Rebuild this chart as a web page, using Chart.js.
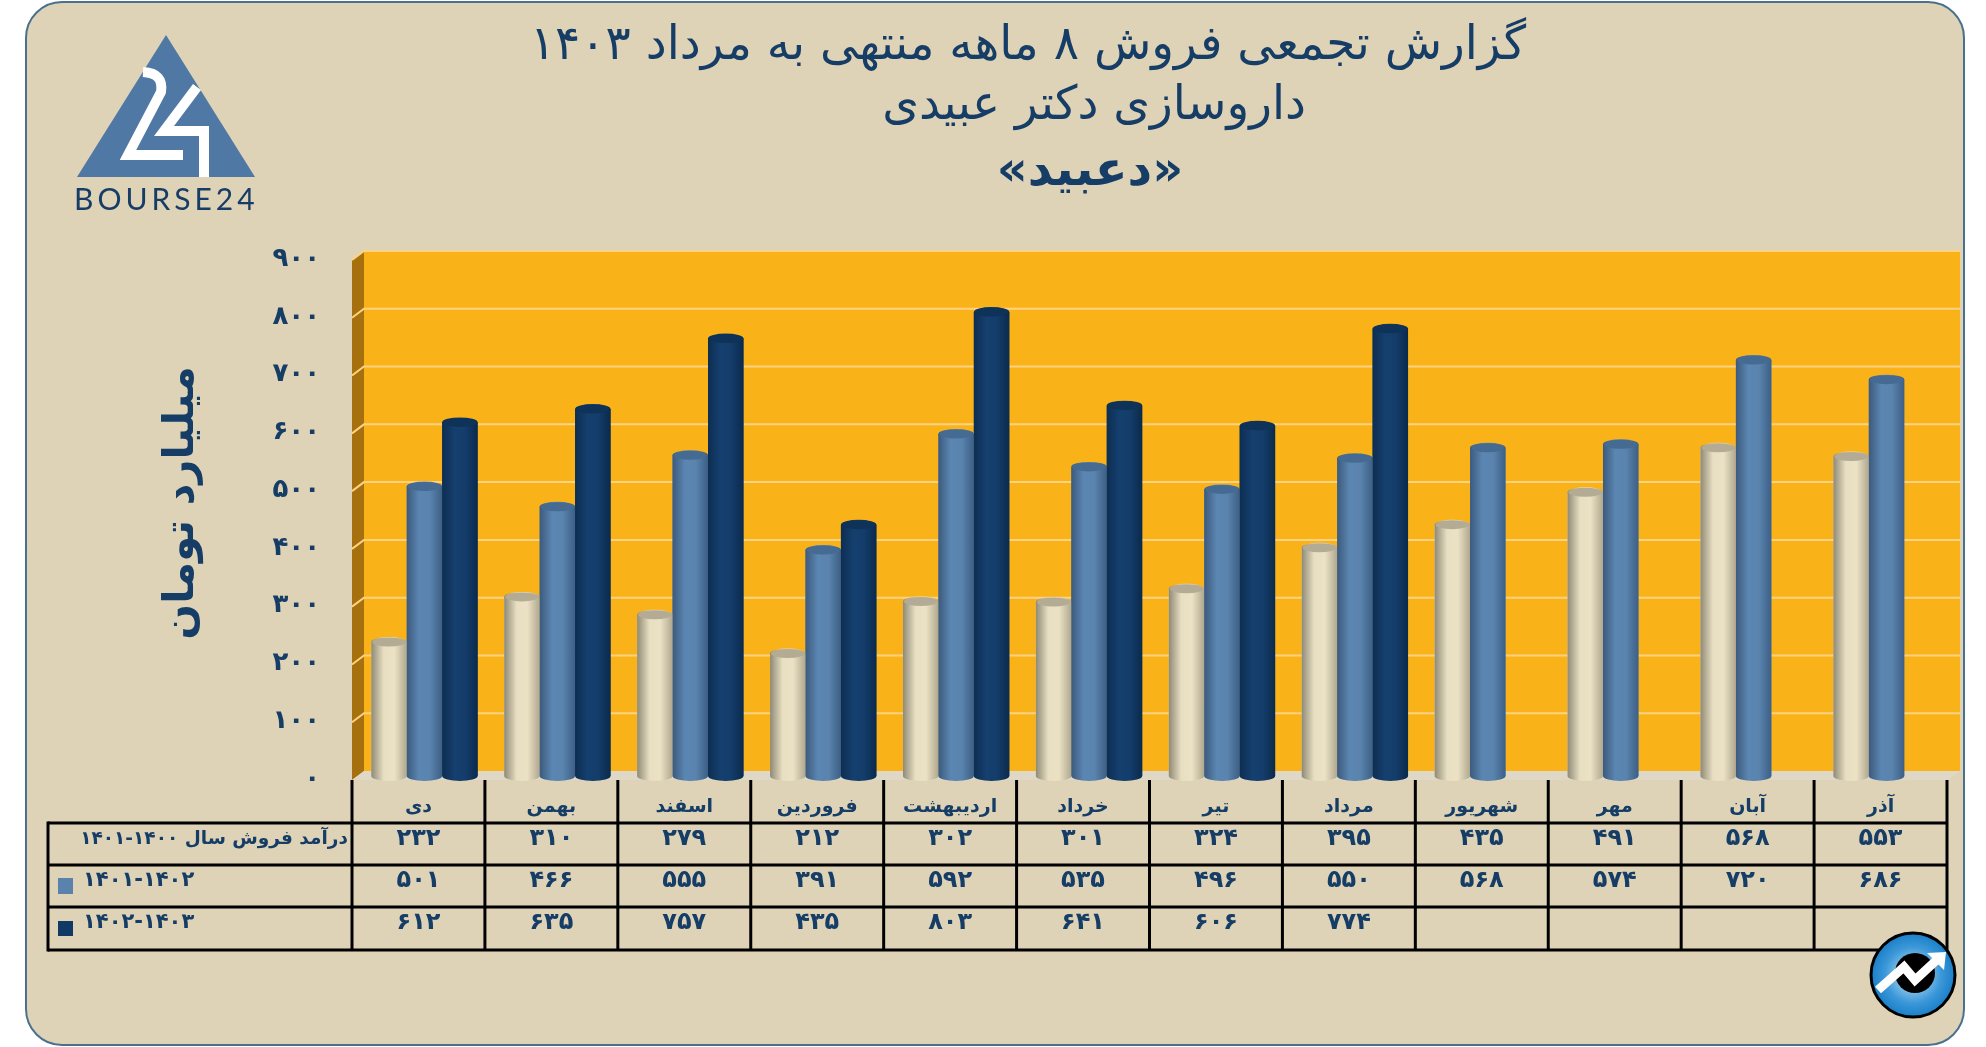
<!DOCTYPE html>
<html lang="fa">
  <head>
    <meta charset="UTF-8" />
    <title>داروسازی دکتر عبیدی</title>
    <script src="https://cdn.jsdelivr.net/npm/chart.js"></script>
    <style>
      html, body { margin: 0; background: #ffffff; }
      canvas { display: block; }
    </style>
  </head>
  <body>
    <canvas id="salesChart" width="1986" height="1047"></canvas>
    <script>
      const months = ["دی", "بهمن", "اسفند", "فروردین", "اردیبهشت", "خرداد", "تیر", "مرداد", "شهریور", "مهر", "آبان", "آذر"];
      const sales1400 = [232, 310, 279, 212, 302, 301, 324, 395, 435, 491, 568, 553];
      const sales1401 = [501, 466, 555, 391, 592, 535, 496, 550, 568, 574, 720, 686];
      const sales1402 = [612, 635, 757, 435, 803, 641, 606, 774, null, null, null, null];
      const seriesLabels = ["درآمد فروش سال ۱۴۰۰-۱۴۰۱", "۱۴۰۱-۱۴۰۲", "۱۴۰۲-۱۴۰۳"];
      const titleLines = ["گزارش تجمعی فروش ۸ ماهه منتهی به مرداد ۱۴۰۳", "داروسازی دکتر عبیدی", "«دعبید»"];
      const yTitle = "میلیارد تومان";

      const navy = "#163d66";
      const font = "'DejaVu Sans', 'Noto Sans', sans-serif";
      const faDigits = (n) => String(n).replace(/\d/g, (d) => "۰۱۲۳۴۵۶۷۸۹"[d]);

      // shading for the cylinders: left edge, middle, right edge, top cap
      const shades = [
        { stops: ["#8f8a76", "#e8dfc2", "#ebe2c6", "#b0a88e"], cap: "#b3ab93" },
        { stops: ["#3c5a7c", "#5b86b2", "#5a84ae", "#3d5f86"], cap: "#466b92" },
        { stops: ["#0d2e52", "#153f6e", "#143d6b", "#0b2a4c"], cap: "#0e3258" },
      ];

      function text(ctx, str, x, y, size, weight, align, color) {
        ctx.font = weight + " " + size + "px " + font;
        ctx.fillStyle = color || navy;
        ctx.textAlign = align || "center";
        ctx.textBaseline = "middle";
        ctx.direction = "rtl";
        ctx.fillText(str, x, y);
      }

      const frame = {
        id: "frame",
        beforeDraw(chart) {
          const { ctx } = chart;
          const y = chart.scales.y;
          const y0 = y.getPixelForValue(0);
          const yTop = y.getPixelForValue(900);
          ctx.save();
          // rounded panel
          ctx.beginPath();
          ctx.roundRect(26, 2, 1938, 1043, 36);
          ctx.fillStyle = "#ded3b7";
          ctx.fill();
          ctx.lineWidth = 2;
          ctx.strokeStyle = "#4a7090";
          ctx.stroke();
          // back wall, side wall, floor
          ctx.fillStyle = "#fab219";
          ctx.fillRect(364, yTop - 5, 1596, y0 - yTop);
          ctx.fillStyle = "#a6700f";
          ctx.beginPath();
          ctx.moveTo(352, yTop + 4);
          ctx.lineTo(364, yTop - 5);
          ctx.lineTo(364, y0 - 5);
          ctx.lineTo(352, y0 + 4);
          ctx.fill();
          ctx.fillStyle = "#dfd8c6";
          ctx.beginPath();
          ctx.moveTo(352, y0 + 4);
          ctx.lineTo(364, y0 - 5);
          ctx.lineTo(1960, y0 - 5);
          ctx.lineTo(1948, y0 + 4);
          ctx.fill();
          // gridlines from the value axis ticks
          ctx.strokeStyle = "#fdd283";
          ctx.lineWidth = 2;
          y.ticks.forEach((t) => {
            if (t.value === 0) return;
            const p = y.getPixelForValue(t.value);
            ctx.beginPath();
            ctx.moveTo(352, p + 4);
            ctx.lineTo(364, p - 5);
            ctx.lineTo(1960, p - 5);
            ctx.stroke();
          });
          ctx.restore();
        },
        afterDatasetsDraw(chart) {
          const { ctx } = chart;
          ctx.save();
          chart.data.datasets.forEach((ds, i) => {
            chart.getDatasetMeta(i).data.forEach((bar, j) => {
              if (ds.data[j] == null) return;
              const left = bar.x - bar.width / 2;
              const right = bar.x + bar.width / 2;
              const rx = bar.width / 2;
              const ry = 5;
              const g = ctx.createLinearGradient(left, 0, right, 0);
              g.addColorStop(0, shades[i].stops[0]);
              g.addColorStop(0.35, shades[i].stops[1]);
              g.addColorStop(0.65, shades[i].stops[2]);
              g.addColorStop(1, shades[i].stops[3]);
              ctx.fillStyle = g;
              ctx.beginPath();
              ctx.moveTo(left, bar.y);
              ctx.lineTo(right, bar.y);
              ctx.lineTo(right, bar.base);
              ctx.ellipse(bar.x, bar.base, rx, ry, 0, 0, Math.PI);
              ctx.closePath();
              ctx.fill();
              ctx.fillStyle = g;
              ctx.beginPath();
              ctx.ellipse(bar.x, bar.y, rx, ry, 0, 0, Math.PI * 2);
              ctx.fill();
              ctx.fillStyle = shades[i].cap;
              ctx.beginPath();
              ctx.ellipse(bar.x, bar.y, rx - 1, ry - 0.5, 0, 0, Math.PI * 2);
              ctx.fill();
            });
          });
          ctx.restore();
        },
        afterDraw(chart) {
          const { ctx } = chart;
          const x = chart.scales.x;
          const half = (x.getPixelForValue(1) - x.getPixelForValue(0)) / 2;
          const rows = [823, 865, 907, 950];
          const rowText = [839, 881, 923];
          ctx.save();
          // data table lines
          ctx.strokeStyle = "#000000";
          ctx.lineWidth = 3;
          rows.forEach((r) => {
            ctx.beginPath();
            ctx.moveTo(48, r);
            ctx.lineTo(1947, r);
            ctx.stroke();
          });
          ctx.beginPath();
          ctx.moveTo(48, 821.5);
          ctx.lineTo(48, 951.5);
          ctx.stroke();
          months.forEach((m, i) => {
            const edge = x.getPixelForValue(i) - half - 6;
            ctx.beginPath();
            ctx.moveTo(edge, 780);
            ctx.lineTo(edge, 951);
            ctx.stroke();
          });
          ctx.beginPath();
          ctx.moveTo(1947, 780);
          ctx.lineTo(1947, 951);
          ctx.stroke();
          // table values
          [sales1400, sales1401, sales1402].forEach((series, r) => {
            series.forEach((v, i) => {
              if (v == null) return;
              text(ctx, faDigits(v), x.getPixelForValue(i) - 6, rowText[r], 24, "bold");
            });
          });
          text(ctx, seriesLabels[0], 348, rowText[0], 18.5, "bold", "right");
          text(ctx, seriesLabels[1], 83, rowText[1], 21, "bold", "left");
          text(ctx, seriesLabels[2], 83, rowText[2], 21, "bold", "left");
          ctx.fillStyle = "#5b82ad";
          ctx.fillRect(58, 878, 15, 16);
          ctx.fillStyle = "#103a66";
          ctx.fillRect(58, 921, 15, 15);
          // titles
          text(ctx, titleLines[0], 1028, 47, 47, "normal");
          text(ctx, titleLines[1], 1094, 107, 47, "normal");
          text(ctx, titleLines[2], 1090, 173, 48, "bold");
          ctx.translate(193, 503);
          ctx.rotate(-Math.PI / 2);
          ctx.font = "bold 42px " + font;
          ctx.fillStyle = navy;
          ctx.textAlign = "center";
          ctx.textBaseline = "alphabetic";
          ctx.direction = "rtl";
          ctx.fillText(yTitle, 0, 0);
          ctx.restore();
          drawLogo(ctx);
          drawBadge(ctx);
        },
      };

      function drawLogo(ctx) {
        ctx.save();
        ctx.fillStyle = "#4f78a4";
        ctx.beginPath();
        ctx.moveTo(166, 35);
        ctx.lineTo(255, 177);
        ctx.lineTo(77, 177);
        ctx.fill();
        ctx.strokeStyle = "#ffffff";
        ctx.lineWidth = 10;
        ctx.lineJoin = "miter";
        ctx.beginPath();
        ctx.moveTo(143, 72);
        ctx.quadraticCurveTo(164, 73, 161, 92);
        ctx.lineTo(128, 155);
        ctx.lineTo(183, 155);
        ctx.stroke();
        ctx.beginPath();
        ctx.moveTo(197, 87);
        ctx.lineTo(164, 131);
        ctx.lineTo(204, 131);
        ctx.lineTo(204, 177);
        ctx.stroke();
        ctx.fillStyle = navy;
        ctx.font = "400 30px Lato, sans-serif";
        ctx.textAlign = "left";
        ctx.textBaseline = "middle";
        ctx.letterSpacing = "4px";
        ctx.fillText("BOURSE24", 74, 200);
        ctx.restore();
      }

      function drawBadge(ctx) {
        const cx = 1913, cy = 975;
        ctx.save();
        const g = ctx.createRadialGradient(cx, cy, 8, cx, cy, 42);
        g.addColorStop(0, "#a8d6f0");
        g.addColorStop(0.6, "#3b97d8");
        g.addColorStop(1, "#1a7fc8");
        ctx.fillStyle = g;
        ctx.strokeStyle = "#000000";
        ctx.lineWidth = 3;
        ctx.beginPath();
        ctx.arc(cx, cy, 42, 0, Math.PI * 2);
        ctx.fill();
        ctx.stroke();
        ctx.fillStyle = "#000000";
        ctx.beginPath();
        ctx.arc(1915, 973, 20, 0, Math.PI * 2);
        ctx.fill();
        ctx.strokeStyle = "#ffffff";
        ctx.lineWidth = 9;
        ctx.beginPath();
        ctx.moveTo(1878, 990);
        ctx.lineTo(1904, 967);
        ctx.lineTo(1915, 980);
        ctx.lineTo(1940, 957);
        ctx.stroke();
        ctx.fillStyle = "#ffffff";
        ctx.beginPath();
        ctx.moveTo(1946, 952);
        ctx.lineTo(1927, 953);
        ctx.lineTo(1944, 970);
        ctx.fill();
        ctx.restore();
      }

      new Chart(document.getElementById("salesChart").getContext("2d"), {
        type: "bar",
        data: {
          labels: months,
          datasets: [
            { label: seriesLabels[0], data: sales1400, backgroundColor: "#e8dfc2" },
            { label: seriesLabels[1], data: sales1401, backgroundColor: "#5a84ae" },
            { label: seriesLabels[2], data: sales1402, backgroundColor: "#143d6b" },
          ],
        },
        plugins: [frame],
        options: {
          responsive: false,
          animation: false,
          layout: { padding: { top: 256, right: 33, left: 0, bottom: 0 } },
          datasets: { bar: { categoryPercentage: 0.8, barPercentage: 1, borderWidth: 0 } },
          plugins: { legend: { display: false }, tooltip: { enabled: false }, title: { display: false } },
          scales: {
            x: {
              afterFit(axis) { axis.height = 271; },
              grid: { display: false },
              border: { display: false },
              ticks: {
                color: navy,
                font: { family: font, size: 19, weight: "bold" },
                padding: 12,
                labelOffset: -6,
                maxRotation: 0,
                autoSkip: false,
              },
            },
            y: {
              min: 0,
              max: 900,
              afterFit(axis) { axis.width = 358; },
              grid: { display: false },
              border: { display: false },
              ticks: {
                stepSize: 100,
                color: navy,
                font: { family: font, size: 26, weight: "bold" },
                padding: 30,
                labelOffset: 3,
                callback: (v) => faDigits(v),
              },
            },
          },
        },
      });
    </script>
  </body>
</html>
